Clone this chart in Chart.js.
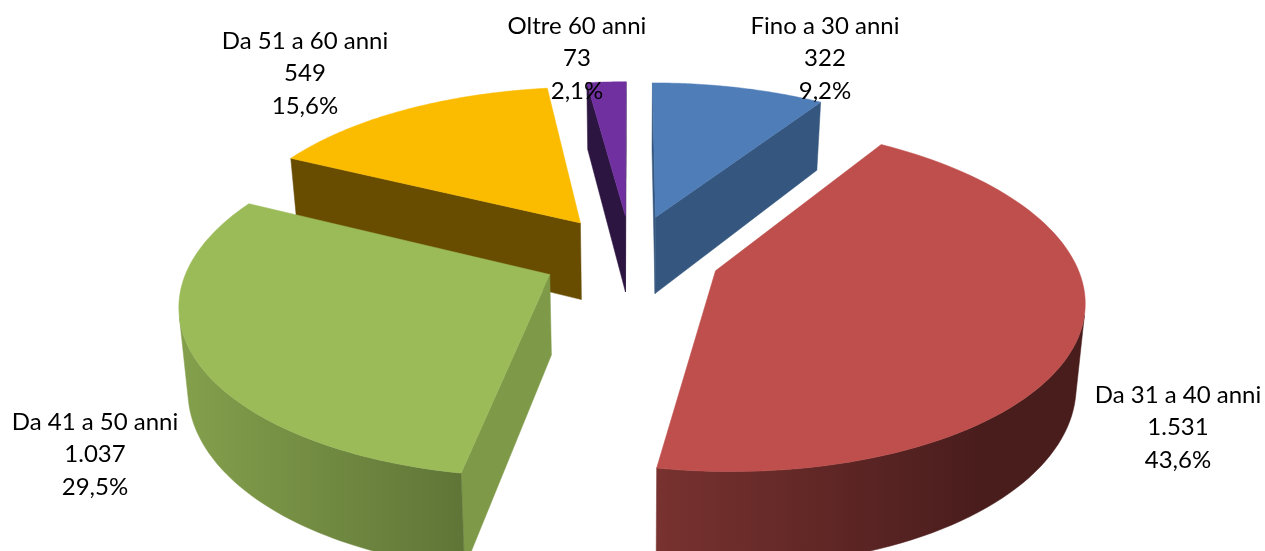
<!DOCTYPE html>
<html>
<head>
<meta charset="utf-8">
<style>html,body{margin:0;padding:0;background:#fff;overflow:hidden}#wrap{position:relative;width:1265px;height:551px}</style>
<script src="https://cdn.jsdelivr.net/npm/chart.js@4/dist/chart.umd.min.js"></script>
</head>
<body>
<div id="wrap"><canvas id="c" width="1265" height="551"></canvas></div>
<script>
const categories = ["Fino a 30 anni", "Da 31 a 40 anni", "Da 41 a 50 anni", "Da 51 a 60 anni", "Oltre 60 anni"];
const values = [322, 1531, 1037, 549, 73];

const topColors = ["#4F7DB8", "#BE4F4C", "#9BBB59", "#FBBC00", "#7030A0"];
const faceColors = ["#35577F", "#6E2F2D", "#7E9A49", "#684C00", "#2C1540"];
const wallLight = ["#35577F", "#78322F", "#84A04C", "#684C00", "#2C1540"];
const wallDark = ["#2F4E73", "#4A1D1D", "#5F7537", "#684C00", "#2C1540"];
const labelCenters = [[825, 26], [1178, 395], [95, 422], [305, 41], [577, 26]];
const drawOrder = [4, 3, 0, 2, 1];

const view = {explode: 0.25, fx: 1.3, gy: 0.6, cxOff: -1.5, cyOff: -20, p: 0.151, depth: 0.287, shrink: 0.98};

function fmtInt(v){ return String(v).replace(/\B(?=(\d{3})+(?!\d))/g, "."); }
function fmtPct(v, tot){ return (v / tot * 100).toFixed(1).replace(".", ",") + "%"; }

const pie3d = {
  id: "pie3d",
  beforeDatasetDraw(chart){
    const ctx = chart.ctx;
    const arcs = chart.getDatasetMeta(0).data;
    const R = arcs[0].outerRadius, ox = arcs[0].x + view.cxOff, oy = arcs[0].y + view.cyOff;
    const project = (x, y, low) => {
      const w = 1 + view.p * y;
      const k = low ? view.shrink : 1;
      return [ox + k * R * view.fx * x / w,
              oy - R * view.gy * y / w + (low ? R * view.depth / w : 0)];
    };
    const poly = (pts, fill) => {
      ctx.beginPath();
      pts.forEach((q, i) => i ? ctx.lineTo(q[0], q[1]) : ctx.moveTo(q[0], q[1]));
      ctx.closePath();
      ctx.fillStyle = fill;
      ctx.fill();
      ctx.strokeStyle = fill;
      ctx.lineWidth = 0.5;
      ctx.stroke();
    };
    const area = q => {
      let s = 0;
      q.forEach((a, i) => { const b = q[(i + 1) % q.length]; s += a[0] * b[1] - b[0] * a[1]; });
      return s;
    };
    drawOrder.forEach(i => {
      const arc = arcs[i];
      const mid = (arc.startAngle + arc.endAngle) / 2;
      const ax = view.explode * Math.cos(mid), ay = -view.explode * Math.sin(mid);
      const n = 90, rim = [];
      for (let j = 0; j <= n; j++) {
        const t = arc.startAngle + (arc.endAngle - arc.startAngle) * j / n;
        rim.push([ax + Math.cos(t), ay - Math.sin(t)]);
      }
      const apexT = project(ax, ay, false), apexB = project(ax, ay, true);
      const T = rim.map(q => project(q[0], q[1], false));
      const B = rim.map(q => project(q[0], q[1], true));
      // radial faces
      const f1 = [apexT, T[0], B[0], apexB];
      if (area(f1) < 0) poly(f1, faceColors[i]);
      const f2 = [T[n], apexT, apexB, B[n]];
      if (area(f2) < 0) poly(f2, faceColors[i]);
      // curved outer wall, only the part that faces the viewer
      let first = -1, last = -1;
      for (let j = 0; j < n; j++) {
        if (area([T[j], T[j + 1], B[j + 1], B[j]]) < 0) { if (first < 0) first = j; last = j + 1; }
      }
      if (first >= 0) {
        const top = T.slice(first, last + 1), bot = B.slice(first, last + 1).reverse();
        const xs = top.concat(bot).map(q => q[0]);
        const g = ctx.createLinearGradient(Math.min(...xs), 0, Math.max(...xs), 0);
        g.addColorStop(0, wallLight[i]);
        g.addColorStop(i === 1 ? 0.75 : 1, wallDark[i]);
        g.addColorStop(1, wallDark[i]);
        poly(top.concat(bot), g);
      }
      // top face
      poly([apexT].concat(T), topColors[i]);
    });
    return false;
  },
  afterDatasetsDraw(chart){
    const ctx = chart.ctx;
    const tot = values.reduce((a, b) => a + b, 0);
    ctx.save();
    ctx.fillStyle = "#000";
    ctx.font = "24px Lato, Carlito, sans-serif";
    ctx.textAlign = "center";
    ctx.textBaseline = "middle";
    categories.forEach((name, i) => {
      const [x, y] = labelCenters[i];
      ctx.fillText(name, x, y);
      ctx.fillText(fmtInt(values[i]), x, y + 32.5);
      ctx.fillText(fmtPct(values[i], tot), x, y + 65);
    });
    ctx.restore();
  }
};

new Chart(document.getElementById("c"), {
  type: "pie",
  data: {labels: categories, datasets: [{data: values, backgroundColor: topColors, borderWidth: 0}]},
  options: {
    responsive: false,
    animation: false,
    layout: {padding: 0},
    plugins: {legend: {display: false}, tooltip: {enabled: false}, title: {display: false}}
  },
  plugins: [pie3d]
});
</script>
</body>
</html>
